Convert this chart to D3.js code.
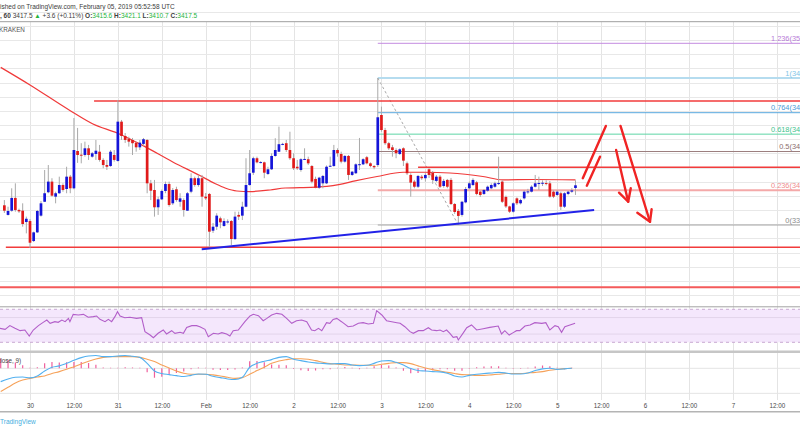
<!DOCTYPE html>
<html><head><meta charset="utf-8">
<script src="https://cdn.jsdelivr.net/npm/d3@7/dist/d3.min.js"></script>
<style>
html,body{margin:0;padding:0;background:#fff;overflow:hidden}
svg{display:block;font-family:"Liberation Sans",Arial,sans-serif}
</style></head><body>
<svg id="chart" width="800" height="430"></svg>
<script>
// ================= DATA =================
const firstCandleUTC = "2019-01-29T17:00:00Z"; // hourly candles (KRAKEN BTC/USD, 60)
const candleOpen = [3403.4,3396.6,3399.6,3408.6,3400.1,3399.6,3391.6,3392.3,3378.2,3384.3,3396.1,3405.9,3412.6,3420.1,3409.5,3411.9,3417.7,3414.9,3423.6,3415.4,3441.7,3439.1,3438.9,3443.6,3437.7,3439.6,3441.2,3435.4,3431.8,3431.1,3438.9,3434.7,3462.4,3452.3,3450.4,3449.5,3447.6,3444.3,3446.7,3449.5,3418.9,3414.2,3402.0,3407.6,3413.5,3418.4,3404.8,3414.7,3405.9,3407.1,3399.6,3413.0,3422.5,3417.7,3422.5,3409.5,3411.4,3385.5,3388.3,3394.2,3388.8,3391.8,3392.3,3379.6,3396.6,3396.1,3402.4,3417.7,3426.4,3436.6,3433.7,3433.7,3425.5,3428.8,3438.2,3441.2,3446.5,3447.2,3442.4,3436.6,3430.6,3428.3,3435.9,3435.9,3431.1,3422.0,3415.8,3418.9,3418.9,3431.1,3431.1,3442.4,3439.6,3434.2,3438.2,3424.8,3426.0,3432.3,3432.3,3437.3,3433.0,3431.1,3431.8,3467.1,3456.5,3447.2,3444.3,3442.4,3439.6,3443.6,3433.0,3424.8,3420.1,3416.5,3423.6,3422.5,3428.8,3426.4,3420.6,3423.6,3417.0,3421.3,3421.3,3404.3,3399.4,3396.6,3405.5,3415.4,3417.7,3419.6,3413.0,3411.4,3413.7,3415.4,3416.5,3418.9,3420.1,3409.3,3402.6,3398.9,3408.3,3404.8,3408.3,3413.0,3413.0,3416.5,3418.9,3418.9,3419.1,3418.9,3413.0,3410.7,3411.9,3402.4,3411.4,3413.0,3415.6];
const candleHigh = [3407.1,3402.4,3415.4,3418.9,3401.0,3404.8,3395.4,3393.7,3384.8,3400.1,3406.4,3428.3,3431.8,3422.5,3413.0,3423.6,3418.9,3430.6,3424.8,3465.0,3458.0,3447.2,3448.3,3446.0,3441.0,3449.5,3446.0,3436.6,3435.4,3442.4,3442.4,3477.7,3463.6,3454.4,3451.8,3450.9,3448.3,3449.5,3450.9,3450.0,3421.3,3421.3,3409.5,3414.5,3420.1,3420.1,3415.6,3416.5,3411.9,3408.3,3412.8,3426.0,3423.6,3424.8,3424.8,3412.1,3412.1,3390.9,3397.8,3395.4,3394.2,3393.5,3393.0,3398.9,3398.9,3405.9,3436.6,3442.4,3437.7,3437.7,3434.5,3434.2,3430.6,3440.1,3450.7,3458.9,3447.5,3449.5,3455.3,3440.1,3435.4,3436.6,3443.6,3437.7,3431.8,3423.6,3423.5,3424.8,3431.5,3437.7,3446.0,3443.6,3441.2,3438.9,3438.9,3427.6,3433.0,3450.9,3436.6,3438.2,3433.7,3431.8,3493.2,3473.0,3458.0,3448.1,3446.0,3443.6,3443.6,3444.3,3434.2,3426.0,3421.3,3424.8,3424.8,3426.0,3429.5,3427.6,3424.8,3424.8,3422.0,3422.0,3422.7,3405.0,3400.8,3406.5,3416.3,3420.1,3422.5,3420.6,3413.7,3414.9,3417.3,3418.9,3420.1,3437.7,3421.0,3410.2,3403.1,3405.5,3409.0,3408.0,3414.0,3415.0,3417.5,3424.8,3423.6,3421.0,3421.0,3420.5,3414.0,3414.0,3413.0,3412.6,3413.7,3415.5,3421.1];
const candleLow = [3398.0,3396.2,3398.9,3398.9,3398.0,3388.3,3383.6,3373.3,3377.5,3383.9,3395.4,3405.7,3411.9,3409.5,3404.8,3411.5,3413.0,3411.9,3411.9,3414.7,3433.3,3433.0,3437.7,3435.4,3437.0,3435.4,3434.2,3429.5,3428.3,3430.6,3434.2,3434.2,3449.5,3447.4,3444.8,3438.9,3441.2,3442.4,3445.3,3411.9,3407.1,3395.4,3396.6,3407.1,3411.9,3402.4,3403.6,3405.9,3402.4,3395.4,3399.4,3411.9,3416.5,3416.5,3402.4,3407.1,3374.0,3383.9,3386.0,3387.2,3388.3,3390.5,3375.4,3378.9,3393.0,3393.0,3402.0,3417.3,3424.8,3433.0,3433.0,3422.5,3424.8,3428.3,3437.7,3441.0,3445.8,3441.0,3435.4,3428.3,3428.3,3427.1,3435.4,3431.8,3418.9,3415.4,3415.0,3415.4,3418.4,3430.5,3430.6,3437.7,3433.0,3433.5,3421.3,3424.1,3425.5,3428.3,3431.8,3432.3,3430.2,3428.8,3430.4,3455.3,3446.0,3442.4,3437.7,3436.6,3438.9,3431.1,3424.8,3409.5,3415.4,3415.6,3421.3,3420.1,3422.7,3418.5,3419.7,3415.6,3415.8,3415.4,3403.6,3397.3,3389.5,3395.4,3404.8,3414.7,3417.0,3410.5,3409.3,3410.7,3413.0,3414.7,3415.8,3417.7,3405.0,3401.5,3398.0,3398.2,3403.6,3404.0,3407.5,3411.5,3412.5,3416.0,3414.2,3417.0,3417.5,3408.8,3408.5,3410.0,3400.1,3401.5,3410.5,3412.2,3410.7];
const candleClose = [3399.6,3399.4,3408.6,3400.1,3399.1,3390.2,3393.9,3377.0,3384.3,3399.4,3404.8,3411.9,3420.1,3410.2,3411.9,3417.7,3414.2,3423.6,3415.4,3442.4,3438.9,3438.7,3443.6,3438.9,3440.1,3441.9,3435.4,3431.8,3430.6,3441.2,3435.4,3462.4,3452.3,3449.5,3448.3,3447.2,3444.3,3447.6,3450.0,3418.9,3413.7,3402.0,3407.6,3413.5,3418.4,3403.6,3414.2,3407.1,3408.3,3400.1,3411.9,3422.5,3417.7,3422.5,3409.5,3408.3,3384.8,3388.3,3396.1,3391.4,3392.3,3392.0,3379.6,3395.4,3395.4,3402.4,3417.7,3426.0,3436.6,3433.7,3433.9,3426.4,3428.8,3438.2,3442.4,3446.5,3446.7,3442.4,3436.6,3429.5,3429.5,3435.9,3436.1,3433.0,3420.1,3415.8,3422.9,3424.1,3430.6,3431.3,3442.4,3440.1,3434.2,3438.2,3424.8,3427.1,3432.3,3432.4,3435.9,3433.0,3431.1,3430.2,3465.5,3456.5,3447.2,3443.6,3442.4,3440.1,3442.9,3434.9,3426.0,3419.4,3416.5,3424.1,3422.5,3424.8,3424.8,3421.3,3423.6,3416.5,3420.6,3416.5,3404.3,3398.7,3395.9,3405.9,3414.9,3418.9,3421.3,3411.4,3410.7,3414.2,3416.5,3417.7,3418.9,3419.1,3405.9,3402.6,3398.9,3404.8,3404.8,3407.1,3413.0,3413.2,3416.5,3418.9,3419.1,3419.3,3418.9,3409.5,3409.5,3413.0,3402.4,3411.9,3413.0,3413.9,3417.5];

// moving average (hours from 2019-01-30 00:00 UTC)
const maHours  = [-8,0,10.9,17.2,23.8,31.4,39,46.4,50.5,53.3,56.5,60.1,65.6,69.7,73.7,81.1,84.7,88.8,94.8,101.9,107.9,114.7,123.7,129.2,137.4,149];
const maValues = [3500.7,3488.3,3470.3,3460.8,3454.4,3444.8,3434.0,3424.4,3418.8,3415.6,3413.5,3413.1,3414.2,3415.6,3415.8,3416.7,3418.1,3420.6,3423.7,3426.7,3426.7,3426.2,3423.7,3421.3,3421.6,3421.3];

// RSI
const rsiHours = [-8.2,-6.8,-5.5,-4.1,-2.7,-1.4,-0.2,0.9,2.3,3.6,4.6,5.5,6.8,7.7,8.7,9.6,10.5,10.9,11.8,13.2,14.6,15.9,17.3,18.2,19.1,20.5,21.4,22.3,23.2,23.9,24.6,25.9,27.3,29.1,30.5,31.4,32.8,33.7,35.0,36.4,37.3,38.7,39.6,41.0,41.9,42.8,44.2,45.5,46.4,47.8,48.7,50.1,51.4,52.4,53.7,54.6,55.5,56.9,58.7,60.1,61.0,62.4,63.7,64.7,66.0,67.4,68.8,70.1,71.5,72.8,74.2,75.6,76.9,77.8,78.8,79.7,81.0,81.9,82.8,83.8,85.1,86.9,88.3,89.7,91.0,92.4,93.8,94.7,96.1,97.4,98.8,100.2,101.1,102.4,103.8,104.7,106.1,107.4,108.8,109.7,111.1,112.0,112.9,113.8,114.7,115.6,116.6,117.0,118.4,119.3,120.6,122.0,123.8,125.6,127.9,128.8,129.7,130.9,132.0,132.9,133.8,135.2,136.6,137.9,139.8,140.9,142.0,143.4,144.3,145.2,146.1,147.5,148.9];
const rsiValues = [46.9,45.7,50.2,46.9,44.1,44.9,37.6,44.9,50.2,54.2,57.0,53.0,55.0,54.2,57.0,55.0,59.0,55.0,63.9,63.1,63.9,60.3,61.1,61.9,57.8,55.0,57.8,55.0,61.1,67.1,61.9,59.8,60.3,59.0,59.8,42.9,38.8,35.6,40.9,44.9,40.1,44.1,40.9,42.1,40.9,48.1,50.2,50.2,48.9,45.7,36.8,40.9,40.1,41.7,40.1,37.6,44.1,44.9,55.0,61.9,63.9,62.3,56.2,59.0,63.1,65.1,63.9,59.0,53.0,56.2,57.0,55.0,44.9,44.1,46.9,44.1,53.8,53.0,57.8,59.0,55.0,48.9,49.7,53.0,53.8,52.2,53.0,68.3,63.1,56.2,55.0,53.8,53.0,48.9,42.9,40.9,44.1,44.1,47.7,44.9,44.1,44.9,42.9,44.9,40.9,36.0,36.8,32.8,41.7,47.7,51.0,44.9,46.5,48.1,49.7,40.1,44.1,38.8,41.7,44.1,44.1,49.7,51.0,53.8,53.0,53.8,44.9,50.2,48.9,42.1,48.9,51.0,53.0];

// MACD (12, 26, close, 9), sampled every 2 hours from hour -8
const macdFirstHour = -8, macdStepHours = 2;
const macdValues   = [-8.9,-7.1,-6.0,-5.8,-6.4,-5.1,-1.8,0.7,1.6,3.3,5.3,7.1,8.2,8.5,7.8,7.8,8.2,8.5,8.0,7.3,3.3,-1.8,-3.5,-4.2,-4.9,-5.5,-4.7,-3.8,-4.0,-5.3,-6.2,-7.1,-7.5,-6.0,0.7,3.3,4.7,5.8,7.3,7.8,6.0,5.1,4.2,3.6,3.3,2.9,3.1,3.1,2.2,1.8,2.0,3.3,4.9,5.1,4.0,2.2,-0.2,-1.5,-1.8,-2.2,-2.4,-3.3,-5.1,-5.8,-4.7,-4.0,-3.5,-3.1,-2.7,-3.1,-3.8,-3.8,-3.1,-1.5,-0.4,0.0,-0.7,-0.4,0.0];
const signalValues = [-15.5,-12.7,-9.8,-7.8,-6.7,-5.8,-5.1,-3.5,-2.2,-0.7,1.1,2.9,4.7,6.2,7.3,7.8,7.8,7.8,7.8,7.3,6.0,4.5,2.2,0.2,-1.8,-3.3,-4.0,-4.0,-4.0,-4.4,-5.1,-6.0,-6.7,-6.2,-4.0,-1.5,0.7,3.3,4.9,5.8,6.4,6.4,6.0,5.1,4.0,3.1,2.7,2.2,2.2,2.0,2.0,2.0,2.7,3.3,3.8,3.8,3.1,1.6,0.2,-0.9,-1.8,-2.7,-3.5,-4.2,-4.4,-4.7,-4.7,-4.4,-4.0,-3.5,-3.5,-3.5,-3.1,-2.7,-2.2,-1.3,-0.7,-0.2,0.0];
const histValues   = [6.6,5.6,3.8,2.0,0.3,0.7,3.3,4.2,3.8,4.0,4.2,4.2,3.5,2.3,0.5,0.0,0.4,0.7,0.2,0.0,-2.7,-6.3,-5.7,-4.4,-3.1,-2.2,-0.7,0.2,0.0,-0.9,-1.1,-1.1,-0.8,0.2,4.7,4.8,4.0,2.5,2.4,2.0,-0.4,-1.3,-1.8,-1.5,-0.7,-0.2,0.4,0.9,0.0,-0.2,0.0,1.3,2.2,1.8,0.2,-1.6,-3.3,-3.1,-2.0,-1.3,-0.6,-0.6,-1.6,-1.6,-0.3,0.7,1.2,1.3,1.3,0.4,-0.3,-0.3,0.0,1.2,1.8,1.3,0.0,-0.2,0.0];

// time axis
const tickLabels = ["30","12:00","31","12:00","Feb","12:00","2","12:00","3","12:00","4","12:00","5","12:00","6","12:00","7","12:00"];

// Fibonacci retracement
const fibRatios = [1.236,1,0.764,0.618,0.5,0.236,0];
const fibHigh = 3493.2, fibLow = 3389.5, fibStartHour = 95, fibEndHour = 117;

// drawn horizontal levels (price, start hour)
const levelPrices = [3477.0,3373.8,3345.5,3430.2];
const levelStartHours = [17.5,-6.6,-9,106];
// trend line: [hour, price]
const trendLine = [[46.9,3372.4],[154.1,3400.1]];
// hand-drawn arrows: polylines of [hour, price]
const arrowPaths = [
  [[151.0,3422.5],[157.3,3459.4]],
  [[152.1,3417.2],[155.7,3437.7]],
  [[161.3,3459.4],[169.35,3391.8]],
  [[165.9,3398.2],[169.35,3391.8],[169.8,3400.6]],
  [[160.1,3442.4],[163.4,3405.9]],
  [[160.9,3412.3],[163.4,3405.9],[164.1,3415.4]]
];

// ================= CHART =================
const W = 800, H = 430;
const HR = 3600e3;
const base = Date.parse("2019-01-30T00:00:00Z");
const tAt = h => new Date(base + h * HR);
const x = d3.scaleUtc().domain([tAt(-8.194), tAt(210.33)]).range([0, W]);
const xh = h => x(tAt(h));
const yP = d3.scaleLinear().domain([fibLow, fibHigh]).range([225, 78]);
const yR = d3.scaleLinear().domain([30, 70]).range([342.3, 309.3]);
const yM = d3.scaleLinear().domain([0, 10]).range([368.3, 353.3]);

const pane = {main:[22,306.5], rsi:[307,351], macd:[352.5,400]};

const svg = d3.select("#chart");
svg.append("rect").attr("width", W).attr("height", H).attr("fill", "#fff");
const defs = svg.append("defs");
Object.entries(pane).forEach(([k,[a,b]]) => {
  defs.append("clipPath").attr("id","clip-"+k).append("rect").attr("x",0).attr("y",a).attr("width",W).attr("height",b-a);
});

// vertical grid
const tickTimes = tickLabels.map((_, i) => tAt(i * 12));
svg.append("g").selectAll("line").data(tickTimes).join("line")
  .attr("x1", d => Math.round(x(d)) + 0.5).attr("x2", d => Math.round(x(d)) + 0.5)
  .attr("y1", 22).attr("y2", 400).attr("stroke", "#e4e4e4").attr("stroke-width", 1);

// main pane horizontal grid
const gridPrices = d3.range(3340, 3541, 10);
svg.append("g").selectAll("line").data(gridPrices).join("line")
  .attr("x1", 0).attr("x2", W)
  .attr("y1", d => Math.round(yP(d)) + 0.5).attr("y2", d => Math.round(yP(d)) + 0.5)
  .attr("stroke", "#e8e8e8");

// ---- main pane content ----
const gm = svg.append("g").attr("clip-path", "url(#clip-main)");

// fib levels
const fibColors = ["#c38be0","#b5dcef","#5aa9df","#5ed5a6","#9c7f7f","#f4a9a9","#a4a4a4"];
const fibText   = ["#b77ad8","#80c4e6","#4b9ad6","#3ec38d","#8b6d6d","#ef8c8c","#8a8a8a"];
const fibWidth  = [1,2,1,1,1,2,1];
const fibData = fibRatios.map((r, i) => ({r, p: fibLow + r * (fibHigh - fibLow), i}));
gm.append("g").selectAll("line").data(fibData).join("line")
  .attr("x1", xh(fibStartHour)).attr("x2", W)
  .attr("y1", d => yP(d.p)).attr("y2", d => yP(d.p))
  .attr("stroke", d => fibColors[d.i]).attr("stroke-width", d => fibWidth[d.i]);
gm.append("g").selectAll("text").data(fibData).join("text")
  .attr("x", 817).attr("y", d => yP(d.p) - 2.2).attr("text-anchor", "end")
  .attr("font-size", 7.4).attr("fill", d => fibText[d.i])
  .text(d => `${d.r}(${d.p.toFixed(1)})`);

// fib dashed diagonal
gm.append("line")
  .attr("x1", xh(fibStartHour)).attr("y1", yP(fibHigh))
  .attr("x2", xh(fibEndHour)).attr("y2", yP(fibLow))
  .attr("stroke", "#a8a8a8").attr("stroke-width", 1).attr("stroke-dasharray", "2.5,2.5");

// horizontal red levels
gm.append("g").selectAll("line").data(levelPrices).join("line")
  .attr("x1", (d, i) => xh(levelStartHours[i])).attr("x2", W)
  .attr("y1", d => yP(d)).attr("y2", d => yP(d))
  .attr("stroke", (d, i) => i === 2 ? "#f45a5a" : "#f23b3b")
  .attr("stroke-width", (d, i) => i === 2 ? 2 : 1.5);

// moving average
const maLine = d3.line().curve(d3.curveMonotoneX).x((d, i) => xh(maHours[i])).y(d => yP(d));
gm.append("path").datum(maValues).attr("d", maLine)
  .attr("fill", "none").attr("stroke", "#f03a3a").attr("stroke-width", 1.2);

// candles
const c0 = Date.parse(firstCandleUTC);
const candles = candleOpen.map((o, i) => ({t: new Date(c0 + i * HR), o, h: candleHigh[i], l: candleLow[i], c: candleClose[i]}));
const bw = 2.7;
gm.append("g").selectAll("line").data(candles).join("line")
  .attr("x1", d => x(d.t)).attr("x2", d => x(d.t))
  .attr("y1", d => yP(d.h)).attr("y2", d => yP(d.l))
  .attr("stroke", "#a9a9a9").attr("stroke-width", 1);
gm.append("g").selectAll("rect").data(candles).join("rect")
  .attr("x", d => x(d.t) - bw / 2).attr("width", bw)
  .attr("y", d => Math.min(yP(d.o), yP(d.c)))
  .attr("height", d => Math.max(1, Math.abs(yP(d.o) - yP(d.c))))
  .attr("fill", d => d.c >= d.o ? "#1414d8" : "#e01a1a");

// trend line
gm.append("line")
  .attr("x1", xh(trendLine[0][0])).attr("y1", yP(trendLine[0][1]))
  .attr("x2", xh(trendLine[1][0])).attr("y2", yP(trendLine[1][1]))
  .attr("stroke", "#2222e8").attr("stroke-width", 2);

// arrows
const arrowLine = d3.line().x(d => xh(d[0])).y(d => yP(d[1]));
gm.append("g").selectAll("path").data(arrowPaths).join("path")
  .attr("d", arrowLine).attr("fill", "none")
  .attr("stroke", "#f02424").attr("stroke-width", 2.4).attr("stroke-linecap", "round").attr("stroke-linejoin", "round");

// KRAKEN label
svg.append("text").attr("x", -1).attr("y", 31.5).attr("font-size", 6.3).attr("fill", "#555").text("KRAKEN");

// ---- RSI pane ----
const gr = svg.append("g").attr("clip-path", "url(#clip-rsi)");
gr.append("rect").attr("x", 0).attr("width", W).attr("y", yR(70)).attr("height", yR(30) - yR(70)).attr("fill", "#f4e7fc");
gr.append("g").selectAll("line").data([40, 60]).join("line")
  .attr("x1", 0).attr("x2", W).attr("y1", d => yR(d)).attr("y2", d => yR(d)).attr("stroke", "#e2d4ea");
gr.append("g").selectAll("line").data([30, 70]).join("line")
  .attr("x1", 0).attr("x2", W).attr("y1", d => yR(d)).attr("y2", d => yR(d))
  .attr("stroke", "#c9a9d3").attr("stroke-dasharray", "3,3");
gr.append("path").datum(rsiValues)
  .attr("d", d3.line().x((d, i) => xh(rsiHours[i])).y(d => yR(d)))
  .attr("fill", "none").attr("stroke", "#b25ec9").attr("stroke-width", 1.1);

// ---- MACD pane ----
const gmc = svg.append("g").attr("clip-path", "url(#clip-macd)");
gmc.append("g").selectAll("line").data([0, -16.7]).join("line")
  .attr("x1", 0).attr("x2", W).attr("y1", d => yM(d)).attr("y2", d => yM(d)).attr("stroke", "#e4e4e4");
const mh = i => macdFirstHour + i * macdStepHours;
gmc.append("g").selectAll("line").data(histValues).join("line")
  .attr("x1", (d, i) => xh(mh(i))).attr("x2", (d, i) => xh(mh(i)))
  .attr("y1", yM(0)).attr("y2", d => yM(d) + (Math.abs(d) < 0.3 ? (d >= 0 ? -0.6 : 0.6) : 0))
  .attr("stroke", "#ef5f9d").attr("stroke-width", 1.2);
const mline = d3.line().x((d, i) => xh(mh(i))).y(d => yM(d)).curve(d3.curveMonotoneX);
gmc.append("path").datum(signalValues).attr("d", mline).attr("fill", "none").attr("stroke", "#f6a25a").attr("stroke-width", 1.1);
gmc.append("path").datum(macdValues).attr("d", mline).attr("fill", "none").attr("stroke", "#52b0f0").attr("stroke-width", 1.1);
svg.append("text").attr("x", 21).attr("y", 363).attr("text-anchor", "end").attr("font-size", 6.3).attr("fill", "#444").text("MACD (12, 26, close, 9)");

// pane borders
svg.append("line").attr("x1", 0).attr("x2", W).attr("y1", 21.7).attr("y2", 21.7).attr("stroke", "#9e9e9e");
svg.append("line").attr("x1", 0).attr("x2", W).attr("y1", 306.8).attr("y2", 306.8).attr("stroke", "#a3a3a3");
svg.append("line").attr("x1", 0).attr("x2", W).attr("y1", 351.8).attr("y2", 351.8).attr("stroke", "#c6c6c6").attr("stroke-width", 2.6);
svg.append("line").attr("x1", 0).attr("x2", W).attr("y1", 411.8).attr("y2", 411.8).attr("stroke", "#b4b4b4").attr("stroke-width", 1.5);

// time axis
const axis = d3.axisBottom(x).tickValues(tickTimes).tickFormat((d, i) => tickLabels[i]).tickSize(0).tickPadding(0);
const ga = svg.append("g").attr("transform", "translate(0,403.2)").call(axis);
ga.select(".domain").remove();
ga.selectAll("text").attr("font-size", 6.3).attr("fill", "#4a4a4a").attr("font-family", "'Liberation Sans',Arial,sans-serif");

// header
const n = candleClose.length;
const lastO = candleOpen[n-1], lastH = candleHigh[n-1], lastL = candleLow[n-1], lastC = candleClose[n-1];
const chg = lastC - candleClose[n-2];
const pct = chg / candleClose[n-2] * 100;
const green = "#23b43a", dark = "#3c3c3c";
svg.append("text").attr("x", 0).attr("y", 8.6).attr("font-size", 6.5).attr("fill", dark)
  .text("ished on TradingView.com, February 05, 2019 05:52:58 UTC");
const h2 = svg.append("text").attr("x", 0).attr("y", 17.6).attr("font-size", 6.5).attr("fill", dark);
h2.append("tspan").attr("font-weight", "bold").text(", 60 ");
h2.append("tspan").text(lastC.toFixed(1) + " ");
h2.append("tspan").attr("fill", green).text("\u25B2");
h2.append("tspan").text(` +${chg.toFixed(1)} (+${pct.toFixed(2)}%) `);
[["O:", lastO], [" H:", lastH], [" L:", lastL], [" C:", lastC]].forEach(([k, v]) => {
  h2.append("tspan").attr("font-weight", "bold").text(k);
  h2.append("tspan").attr("fill", green).text(v.toFixed(1));
});

// footer
svg.append("text").attr("x", 0).attr("y", 423.5).attr("font-size", 6.5).attr("fill", "#45aee0").text("TradingView");
</script>
</body></html>
